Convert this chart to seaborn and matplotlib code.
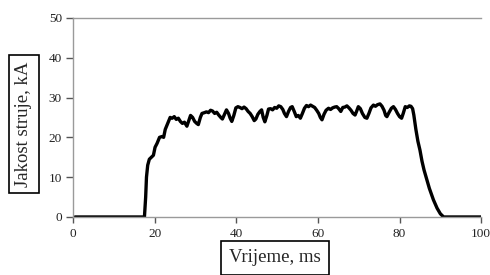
import matplotlib
matplotlib.use("Agg")
import matplotlib.pyplot as plt
import seaborn as sns
import pandas as pd

sns.set_theme(style="white")
plt.rcParams['font.family'] = ['Liberation Serif', 'DejaVu Serif']

time_ms = [0.5, 5, 10, 15, 17.5, 17.8, 18.0, 18.3, 18.7, 19.2, 19.7, 20.1, 20.6, 21.2, 21.8, 22.2, 22.6, 23.2, 23.8,
           24.3, 24.8, 25.3, 25.8, 26.3, 26.8, 27.3, 27.9, 28.3, 28.8, 29.3, 29.8, 30.3, 30.7, 31.2, 31.6, 32.2,
           32.7, 33.2, 33.7, 34.2, 34.7, 35.2, 35.7, 36.2, 36.6, 37.0, 37.6, 38.1, 38.5, 38.9, 39.4, 39.9, 40.4,
           40.9, 41.4, 41.9, 42.4, 42.9, 43.4, 43.9, 44.4, 44.8, 45.3, 45.8, 46.2, 46.6, 47.0, 47.5, 47.9, 48.4,
           48.9, 49.4, 49.9, 50.4, 50.9, 51.4, 51.8, 52.3, 52.8, 53.3, 53.7, 54.2, 54.7, 55.2, 55.7, 56.2, 56.7,
           57.2, 57.7, 58.2, 58.7, 59.2, 59.7, 60.2, 60.6, 61.0, 61.5, 62.0, 62.6, 63.1, 63.6, 64.1, 64.6, 65.1,
           65.6, 66.1, 66.6, 67.1, 67.6, 68.1, 68.6, 69.1, 69.5, 69.9, 70.4, 70.9, 71.5, 72.0, 72.5, 73.0, 73.6,
           74.1, 74.6, 75.2, 75.7, 76.2, 76.6, 76.9, 77.4, 78.0, 78.5, 79.0, 79.5, 80.0, 80.5, 80.9, 81.4, 81.9,
           82.4, 82.8, 83.2, 83.5, 84.0, 84.5, 85.0, 85.5, 86.0, 86.7, 87.3, 88.3, 89.2, 90.0, 90.8, 95, 100]
current_kA = [0, 0, 0, 0, 0, 5, 10, 13, 14.5, 15, 15.5, 17.5, 18.5, 20, 20.2, 20, 22, 23.5, 25,
              24.8, 25.2, 24.5, 24.8, 24, 23.5, 23.8, 22.8, 24, 25.5, 25, 24, 23.5, 23.2, 25, 26, 26.2,
              26.4, 26.2, 26.8, 26.6, 26, 26.3, 25.6, 25, 24.6, 25.5, 26.9, 26, 24.8, 24.0, 25.5, 27.4, 27.7,
              27.5, 27.2, 27.6, 27.2, 26.5, 26.0, 25.2, 24.2, 24.6, 25.8, 26.5, 26.9, 25, 23.9, 25.5, 27.1, 27.2,
              26.9, 27.5, 27.3, 27.9, 27.7, 27.0, 26.0, 25.2, 26.5, 27.5, 27.7, 26.5, 25.2, 25.5, 24.8, 26, 27.3,
              28.0, 27.7, 28.1, 27.8, 27.5, 26.8, 26, 25, 24.4, 25.8, 26.8, 27.3, 27, 27.4, 27.6, 27.7, 27.2,
              26.5, 27.5, 27.6, 27.9, 27.4, 26.8, 26, 25.6, 26.6, 27.7, 27.2, 26, 25, 24.8, 26, 27.4, 28.1,
              27.8, 28.2, 28.4, 27.8, 26.8, 25.5, 25.2, 26.2, 27.3, 27.7, 27.0, 26.0, 25.2, 24.8, 26.0, 27.7, 27.5,
              27.9, 27.8, 27.2, 25.6, 22, 19, 16.8, 14, 11.8, 9.3, 7.2, 4.3, 2.2, 0.8, 0, 0, 0]

x_ticks = [0, 20, 40, 60, 80, 100]
y_ticks = [0, 10, 20, 30, 40, 50]
x_label = "Vrijeme, ms"
y_label = "Jakost struje, kA"

df = pd.DataFrame({"t": time_ms, "I": current_kA})

fig = plt.figure(figsize=(4.9, 2.75), dpi=100)
ax = fig.add_axes([0.149, 0.211, 0.833, 0.724])
sns.lineplot(data=df, x="t", y="I", ax=ax, color="black", linewidth=2.4, sort=False)

ax.set_xlim(0, 100)
ax.set_ylim(0, 50)
ax.set_xticks(x_ticks)
ax.set_yticks(y_ticks)
ax.set_xlabel("")
ax.set_ylabel("")
for s in ["top", "left", "bottom"]:
    ax.spines[s].set_color("#9a9a9a")
    ax.spines[s].set_linewidth(1.0)
ax.spines["right"].set_visible(False)
ax.tick_params(axis="both", which="both", direction="out", length=5, width=1, color="#555555",
               labelsize=9.5, labelcolor="#222222", pad=3)
ax.tick_params(axis="x", length=4, pad=4)
ax.tick_params(axis="both", left=True, bottom=True)

box = dict(boxstyle="square,pad=0.35", facecolor="white", edgecolor="black", linewidth=1.2)
fig.text(24 / 490, 1 - 124 / 275, y_label, rotation=90, ha="center", va="center",
         fontsize=13.5, bbox=box)
fig.text(275 / 490, 1 - 258 / 275, x_label, ha="center", va="center",
         fontsize=13.5, bbox=dict(boxstyle="square,pad=0.45", facecolor="white", edgecolor="black", linewidth=1.2))

fig.savefig("out.png", dpi=100)
